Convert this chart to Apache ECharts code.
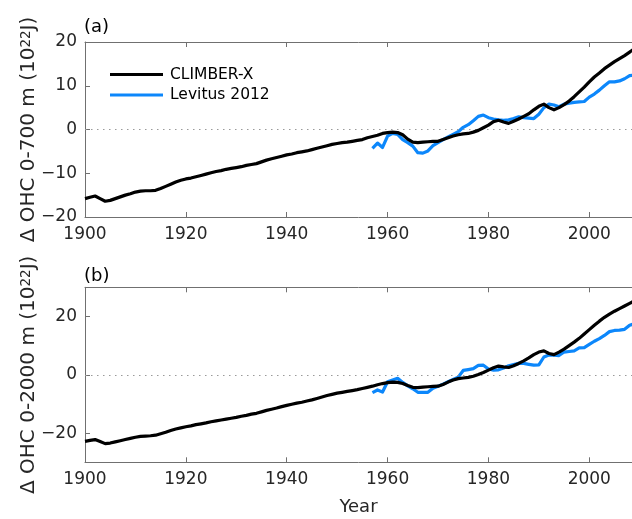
<!DOCTYPE html>
<html>
<head>
<meta charset="utf-8">
<script src="https://cdn.jsdelivr.net/npm/echarts@6/dist/echarts.min.js"></script>
<style>html,body{margin:0;padding:0;background:#fff}#c{width:632px;height:519px}</style>
</head>
<body>
<div id="c"></div>
<script>
// ---- data ----
const modelStartYear = 1900;
const obsStartYear = 1957;
const xTicks = [1900, 1920, 1940, 1960, 1980, 2000];
const yTicksA = [-20, -10, 0, 10, 20];
const yTicksB = [-20, 0, 20];
const seriesNames = ['CLIMBER-X', 'Levitus 2012'];

// (a) OHC 0-700 m, 10^22 J
const climberA = [
 -15.8,-15.5,-15.2,-15.8,-16.4,-16.2,-15.8,-15.4,-15.0,-14.7,
 -14.3,-14.1,-14.0,-14.0,-13.9,-13.5,-13.0,-12.5,-12.0,-11.6,
 -11.3,-11.1,-10.8,-10.5,-10.2,-9.9,-9.6,-9.4,-9.1,-8.9,
 -8.7,-8.5,-8.2,-8.0,-7.8,-7.4,-7.0,-6.7,-6.4,-6.1,
 -5.8,-5.6,-5.3,-5.1,-4.9,-4.6,-4.3,-4.0,-3.7,-3.4,
 -3.2,-3.0,-2.9,-2.7,-2.5,-2.3,-1.9,-1.6,-1.3,-0.9,
 -0.7,-0.6,-0.7,-1.2,-2.2,-2.9,-3.0,-2.9,-2.8,-2.7,
 -2.7,-2.3,-1.9,-1.5,-1.2,-1.0,-0.9,-0.6,-0.2,0.4,
 1.0,1.8,2.1,1.7,1.4,1.9,2.4,3.0,3.6,4.5,
 5.3,5.8,5.0,4.5,5.0,5.7,6.5,7.5,8.6,9.7,
 10.9,12.0,12.9,13.9,14.7,15.5,16.2,16.9,17.7,18.5,
 19.2
];
const levitusA = [
 -4.3,-3.1,-4.1,-1.5,-0.9,-1.1,-2.3,-3.0,-3.8,-5.3,
 -5.4,-4.9,-3.7,-3.0,-2.3,-1.7,-1.1,-0.5,0.5,1.1,
 2.0,3.0,3.3,2.7,2.4,2.2,2.1,2.2,2.5,2.9,
 2.7,2.6,2.5,3.5,5.0,5.8,5.6,5.2,5.8,6.0,
 6.2,6.3,6.4,7.4,8.1,9.0,10.0,10.9,10.9,11.1,
 11.6,12.3,12.5,13.0
];
// (b) OHC 0-2000 m, 10^22 J
const climberB = [
 -22.8,-22.5,-22.2,-22.9,-23.6,-23.4,-23.0,-22.6,-22.2,-21.8,
 -21.4,-21.1,-21.0,-20.9,-20.7,-20.2,-19.7,-19.1,-18.6,-18.2,
 -17.8,-17.5,-17.1,-16.8,-16.5,-16.1,-15.8,-15.5,-15.2,-14.9,
 -14.6,-14.2,-13.9,-13.5,-13.2,-12.7,-12.2,-11.8,-11.4,-10.9,
 -10.5,-10.1,-9.7,-9.4,-9.0,-8.6,-8.1,-7.6,-7.1,-6.7,
 -6.3,-6.0,-5.7,-5.4,-5.1,-4.7,-4.3,-3.9,-3.4,-3.0,
 -2.7,-2.5,-2.6,-3.0,-3.7,-4.3,-4.4,-4.2,-4.1,-4.0,
 -3.9,-3.3,-2.5,-1.8,-1.3,-1.1,-0.9,-0.5,0.1,0.8,
 1.6,2.4,3.0,2.7,2.5,3.1,3.9,4.8,5.8,6.9,
 7.8,8.2,7.3,6.9,7.8,8.8,10.0,11.2,12.5,14.0,
 15.5,17.0,18.4,19.7,20.8,21.8,22.7,23.6,24.5,25.4,
 26.2
];
const levitusB = [
 -6.1,-5.2,-5.9,-2.4,-1.8,-1.2,-2.6,-3.8,-4.8,-6.0,
 -6.0,-6.0,-4.6,-3.9,-3.2,-2.4,-1.6,-0.8,1.5,1.8,
 2.1,3.2,3.3,2.0,1.6,1.7,2.3,3.1,3.5,3.9,
 3.9,3.6,3.3,3.4,6.1,6.8,6.7,6.6,7.8,8.0,
 8.2,9.2,9.3,10.4,11.5,12.4,13.5,14.8,15.2,15.3,
 15.6,17.0,17.5,18.0
];

// ---- chart ----
const pairs = (start, arr) => arr.map((v, i) => [start + i, v]);
const FONT = 'DejaVu Sans';
const AX = '#707070';
const TXT = '#262626';
const BLUE = '#0c87fb';
const X_MIN = 1900, X_MAX = 2008.47;   // the original figure is cropped at the right edge
const fmtNum = v => String(v).replace('-', '\u2212');

const grids = [
  {left: 85, top: 42, right: 0, height: 175},
  {left: 85, top: 287.3, right: 0, height: 175}
];

function xAxes(gi, withName) {
  return [{
    type: 'value', gridIndex: gi, min: X_MIN, max: X_MAX, interval: 20, position: 'bottom',
    splitLine: {show: false},
    axisLine: {show: true, onZero: false, lineStyle: {color: AX, width: 1}},
    axisTick: {show: true, inside: true, length: 5, lineStyle: {color: AX}, customValues: xTicks},
    axisLabel: {show: true, margin: 9, color: TXT, fontSize: 17, fontFamily: FONT, customValues: xTicks, formatter: fmtNum},
    name: withName ? 'Year' : '', nameLocation: 'middle', nameGap: 36, nameMoveOverlap: false,
    nameTextStyle: {color: TXT, fontSize: 18, fontFamily: FONT}
  }, {
    type: 'value', gridIndex: gi, min: X_MIN, max: X_MAX, interval: 20, position: 'top',
    splitLine: {show: false},
    axisLine: {show: true, onZero: false, lineStyle: {color: AX, width: 1}},
    axisTick: {show: true, inside: true, length: 5, lineStyle: {color: AX}, customValues: xTicks},
    axisLabel: {show: false}
  }];
}

function yAxis(gi, min, max, ticks, name) {
  return {
    type: 'value', gridIndex: gi, min: min, max: max, interval: 10, position: 'left',
    splitLine: {show: false},
    axisLine: {show: true, onZero: false, lineStyle: {color: AX, width: 1}},
    axisTick: {show: true, inside: true, length: 5, lineStyle: {color: AX}, customValues: ticks},
    axisLabel: {show: true, margin: 8, color: TXT, fontSize: 17, fontFamily: FONT, customValues: ticks, formatter: fmtNum},
    name: name, nameLocation: 'middle', nameGap: 46, nameRotate: 90, nameMoveOverlap: false,
    nameTextStyle: {
      color: TXT, fontSize: 20, fontFamily: FONT,
      rich: {sup: {fontSize: 13.5, fontFamily: FONT, color: TXT, verticalAlign: 'top', lineHeight: 12}}
    }
  };
}

const zeroLine = {
  silent: true, symbol: 'none', label: {show: false},
  lineStyle: {color: '#9a9a9a', width: 1.2, type: [1.5, 4.5]},
  data: [{yAxis: 0}], animation: false
};

function lineSeries(name, xi, yi, data, color, z, withZero) {
  const s = {
    name: name, type: 'line', xAxisIndex: xi, yAxisIndex: yi, data: data,
    showSymbol: false, symbol: 'none', smooth: false, z: z, clip: true,
    lineStyle: {color: color, width: 3.2, join: 'round', cap: 'butt'},
    itemStyle: {color: color}, animation: false
  };
  if (withZero) s.markLine = zeroLine;
  return s;
}

const option = {
  backgroundColor: '#fff',
  animation: false,
  title: [
    {text: '(a)', left: 84, top: 18, padding: 0, textStyle: {fontSize: 18, fontWeight: 'normal', color: '#000', fontFamily: FONT}},
    {text: '(b)', left: 84, top: 267, padding: 0, textStyle: {fontSize: 18, fontWeight: 'normal', color: '#000', fontFamily: FONT}}
  ],
  legend: {
    show: true, orient: 'vertical', left: 110, top: 66.5, padding: 0,
    itemWidth: 53, itemHeight: 3, itemGap: 4.5, icon: 'rect',
    data: seriesNames,
    textStyle: {color: '#000', fontSize: 15.5, fontFamily: FONT, lineHeight: 15, padding: [0, 0, 0, 2]}
  },
  grid: grids,
  xAxis: [...xAxes(0, false), ...xAxes(1, true)],
  yAxis: [
    yAxis(0, -20, 20, yTicksA, 'Δ OHC 0-700 m (10{sup|22}J)'),
    yAxis(1, -30, 30, yTicksB, 'Δ OHC 0-2000 m (10{sup|22}J)')
  ],
  series: [
    lineSeries(seriesNames[0], 0, 0, pairs(modelStartYear, climberA), '#000', 5, true),
    lineSeries(seriesNames[1], 0, 0, pairs(obsStartYear, levitusA), BLUE, 4, false),
    lineSeries(seriesNames[0], 2, 1, pairs(modelStartYear, climberB), '#000', 5, true),
    lineSeries(seriesNames[1], 2, 1, pairs(obsStartYear, levitusB), BLUE, 4, false)
  ]
};

const chart = echarts.init(document.getElementById('c'), null, {renderer: 'canvas'});
chart.setOption(option);
</script>
</body>
</html>
